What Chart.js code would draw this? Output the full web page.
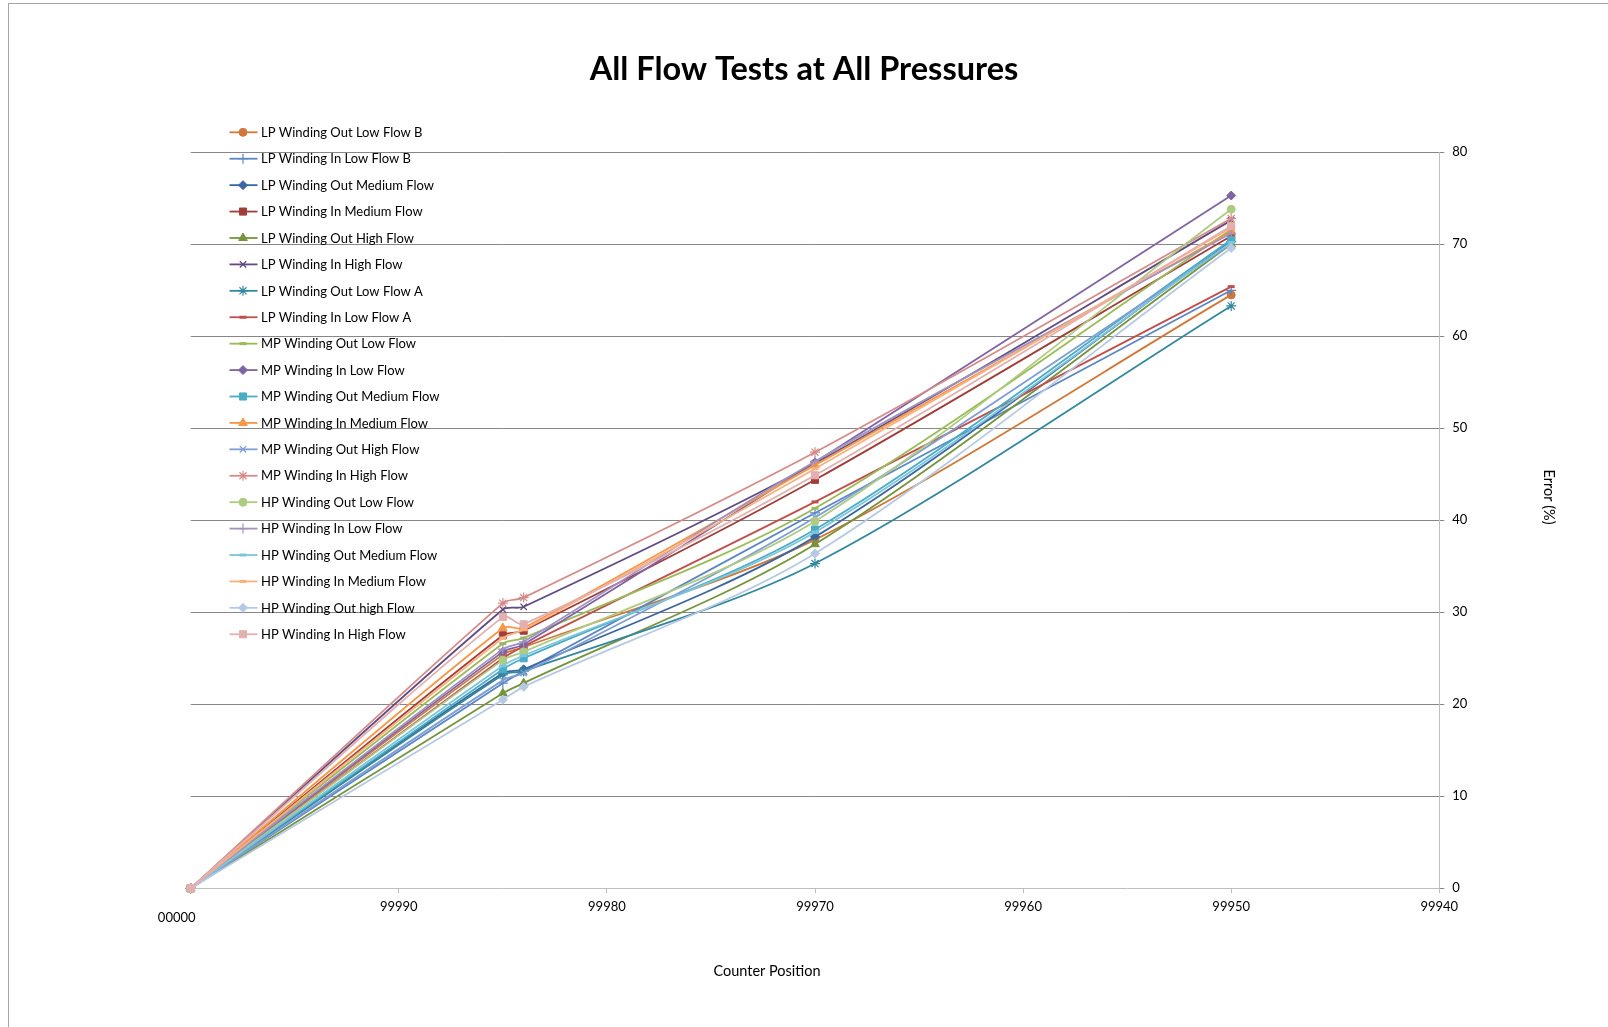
<!DOCTYPE html>
<html>
<head>
<meta charset="utf-8">
<title>All Flow Tests at All Pressures</title>
<script src="https://cdn.jsdelivr.net/npm/chart.js@4.4.1/dist/chart.umd.min.js"></script>
<style>
  html, body { margin: 0; padding: 0; background: #fff; }
  #wrap { position: relative; width: 1608px; height: 1027px; overflow: hidden; }
  #frame { position: absolute; left: 8px; top: 3px; width: 1700px; height: 1100px;
           border-left: 1px solid #a6a6a6; border-top: 1px solid #a6a6a6; }
  canvas { position: absolute; left: 0; top: 0; }
</style>
</head>
<body>
<div id="wrap">
  <div id="frame"></div>
  <canvas id="flowChart" width="1608" height="1027"></canvas>
</div>
<script>
// counter positions where each test was read
const counterPositions = [100000, 99985, 99984, 99970, 99950];

// x axis ticks (counter wraps from 00000 down to 99940)
const xTickValues = [100000, 99990, 99980, 99970, 99960, 99950, 99940];
const xTickLabels = ['00000', '99990', '99980', '99970', '99960', '99950', '99940'];

// error (%) per test
const lpOutLowB    = [0, 25.4, 26.2, 37.9, 64.5];
const lpInLowB     = [0, 22.3, 23.6, 40.8, 65.0];
const lpOutMedium  = [0, 23.4, 23.8, 38.2, 70.3];
const lpInMedium   = [0, 27.5, 28.0, 44.4, 70.9];
const lpOutHigh    = [0, 21.2, 22.3, 37.4, 70.0];
const lpInHigh     = [0, 30.3, 30.6, 46.2, 72.6];
const lpOutLowA    = [0, 23.2, 23.6, 35.3, 63.3];
const lpInLowA     = [0, 25.0, 26.3, 42.0, 65.4];
const mpOutLow     = [0, 26.6, 27.2, 41.3, 71.6];
const mpInLow      = [0, 25.7, 26.5, 46.3, 75.3];
const mpOutMedium  = [0, 23.8, 25.0, 39.0, 70.5];
const mpInMedium   = [0, 28.3, 28.3, 46.0, 71.4];
const mpOutHigh    = [0, 22.6, 23.4, 40.3, 70.0];
const mpInHigh     = [0, 31.0, 31.6, 47.4, 72.8];
const hpOutLow     = [0, 24.8, 25.7, 39.9, 73.8];
const hpInLow      = [0, 26.0, 26.8, 46.4, 71.2];
const hpOutMedium  = [0, 24.2, 25.3, 38.7, 70.2];
const hpInMedium   = [0, 27.2, 28.1, 45.6, 71.8];
const hpOutHigh    = [0, 20.5, 21.9, 36.4, 69.6];
const hpInHigh     = [0, 29.5, 28.7, 44.9, 72.0];

const seriesNames = [
  'LP Winding Out Low Flow B', 'LP Winding In Low Flow B', 'LP Winding Out Medium Flow',
  'LP Winding In Medium Flow', 'LP Winding Out High Flow', 'LP Winding In High Flow',
  'LP Winding Out Low Flow A', 'LP Winding In Low Flow A', 'MP Winding Out Low Flow',
  'MP Winding In Low Flow', 'MP Winding Out Medium Flow', 'MP Winding In Medium Flow',
  'MP Winding Out High Flow', 'MP Winding In High Flow', 'HP Winding Out Low Flow',
  'HP Winding In Low Flow', 'HP Winding Out Medium Flow', 'HP Winding In Medium Flow',
  'HP Winding Out high Flow', 'HP Winding In High Flow'
];
const seriesValues = [
  lpOutLowB, lpInLowB, lpOutMedium, lpInMedium, lpOutHigh, lpInHigh, lpOutLowA, lpInLowA,
  mpOutLow, mpInLow, mpOutMedium, mpInMedium, mpOutHigh, mpInHigh,
  hpOutLow, hpInLow, hpOutMedium, hpInMedium, hpOutHigh, hpInHigh
];

// styling
const seriesColors = [
  '#d0783a', '#5b86c5', '#3b66a0', '#a03e3a', '#76943c', '#604c80', '#33889e', '#c0504d',
  '#9bbb59', '#8064a2', '#4bacc6', '#f79646', '#7f9ed3', '#d58b89', '#afcb82', '#a192c0',
  '#7dc5da', '#f9b07f', '#b7c9e2', '#e3b0af'
];
const seriesMarkers = [
  'circle', 'cross', 'rectRot', 'rect', 'triangle', 'crossRot', 'star', 'line',
  'line', 'rectRot', 'rect', 'triangle', 'crossRot', 'star', 'circle', 'cross',
  'line', 'line', 'rectRot', 'rect'
];
const markerRadius = { circle: 4, cross: 5, rectRot: 4.5, rect: 5, triangle: 5, crossRot: 4.5, star: 5, line: 3.5 };
const markerBorder = { circle: 1, cross: 1.2, rectRot: 1, rect: 1, triangle: 1, crossRot: 1.3, star: 1.2, line: 3 };

const baseFont = 'Lato, "Noto Sans", sans-serif';

const datasets = seriesNames.map((name, i) => ({
  label: name,
  data: counterPositions.map((pos, j) => ({ x: pos, y: seriesValues[i][j] })),
  borderColor: seriesColors[i],
  backgroundColor: seriesColors[i],
  pointBackgroundColor: seriesColors[i],
  pointBorderColor: seriesColors[i],
  pointStyle: seriesMarkers[i],
  pointRadius: markerRadius[seriesMarkers[i]],
  pointBorderWidth: markerBorder[seriesMarkers[i]],
  borderWidth: 1.8,
  tension: 0.3,
  clip: false,
  order: seriesNames.length - i
}));

// title, axis titles, the odd "00000" label and the line+marker legend
const decorations = {
  id: 'decorations',
  afterDraw(chart) {
    const ctx = chart.ctx;
    const xs = chart.scales.x;
    ctx.save();
    ctx.fillStyle = '#000';

    ctx.font = 'bold 32.5px ' + baseFont;
    ctx.textAlign = 'center';
    ctx.textBaseline = 'middle';
    ctx.fillText('All Flow Tests at All Pressures', 804, 70);

    ctx.font = '14.5px ' + baseFont;
    ctx.fillText('Counter Position', 767, 971);

    ctx.save();
    ctx.translate(1549, 497);
    ctx.rotate(Math.PI / 2);
    ctx.fillText('Error (%)', 0, 0);
    ctx.restore();

    ctx.font = '13px ' + baseFont;
    ctx.fillText(xTickLabels[0], xs.getPixelForValue(xTickValues[0]) - 14, 918);

    const drawPoint = Chart.helpers && Chart.helpers.drawPoint;
    chart.data.datasets.forEach((ds, i) => {
      const y = 132.3 + i * 26.42;
      ctx.strokeStyle = ds.borderColor;
      ctx.lineWidth = 1.8;
      ctx.beginPath();
      ctx.moveTo(229.5, y);
      ctx.lineTo(257.5, y);
      ctx.stroke();
      ctx.fillStyle = ds.pointBackgroundColor;
      if (drawPoint) {
        ctx.lineWidth = ds.pointBorderWidth;
        drawPoint(ctx, { pointStyle: ds.pointStyle, radius: ds.pointRadius, rotation: 0, borderWidth: ds.pointBorderWidth }, 243, y);
      }
      ctx.fillStyle = '#000';
      ctx.textAlign = 'left';
      ctx.textBaseline = 'middle';
      ctx.font = '13px ' + baseFont;
      ctx.fillText(ds.label, 261, y + 0.5);
    });
    ctx.restore();
  }
};

new Chart(document.getElementById('flowChart'), {
  type: 'line',
  data: { datasets },
  plugins: [decorations],
  options: {
    responsive: false,
    animation: false,
    devicePixelRatio: 1,
    layout: { padding: { left: 190.7, right: 108.7, top: 152.3, bottom: 78.7 } },
    plugins: { legend: { display: false }, title: { display: false }, tooltip: { enabled: false } },
    scales: {
      x: {
        type: 'linear',
        reverse: true,
        min: 99940,
        max: 100000,
        afterBuildTicks: scale => { scale.ticks = xTickValues.map(v => ({ value: v })); },
        afterFit: scale => { scale.height = 60; },
        ticks: {
          autoSkip: false,
          maxRotation: 0,
          padding: 6,
          color: '#000',
          font: { family: baseFont, size: 13 },
          // the first label is placed lower by the plugin
          callback: v => (v === xTickValues[0] ? '' : xTickLabels[xTickValues.indexOf(v)])
        },
        grid: { drawOnChartArea: false, drawTicks: true, tickLength: 5, color: '#bfbfbf', tickColor: '#bfbfbf' },
        border: { color: '#bfbfbf', width: 1 }
      },
      y: {
        position: 'right',
        min: 0,
        max: 80,
        afterFit: scale => { scale.width = 60; },
        ticks: { stepSize: 10, padding: 8, color: '#000', font: { family: baseFont, size: 13 } },
        grid: {
          color: c => (c.tick && c.tick.value === 0 ? 'rgba(0,0,0,0)' : '#878787'),
          tickColor: '#878787',
          tickLength: 5,
          drawTicks: true
        },
        border: { color: '#bfbfbf', width: 1 }
      }
    }
  }
});
</script>
</body>
</html>
